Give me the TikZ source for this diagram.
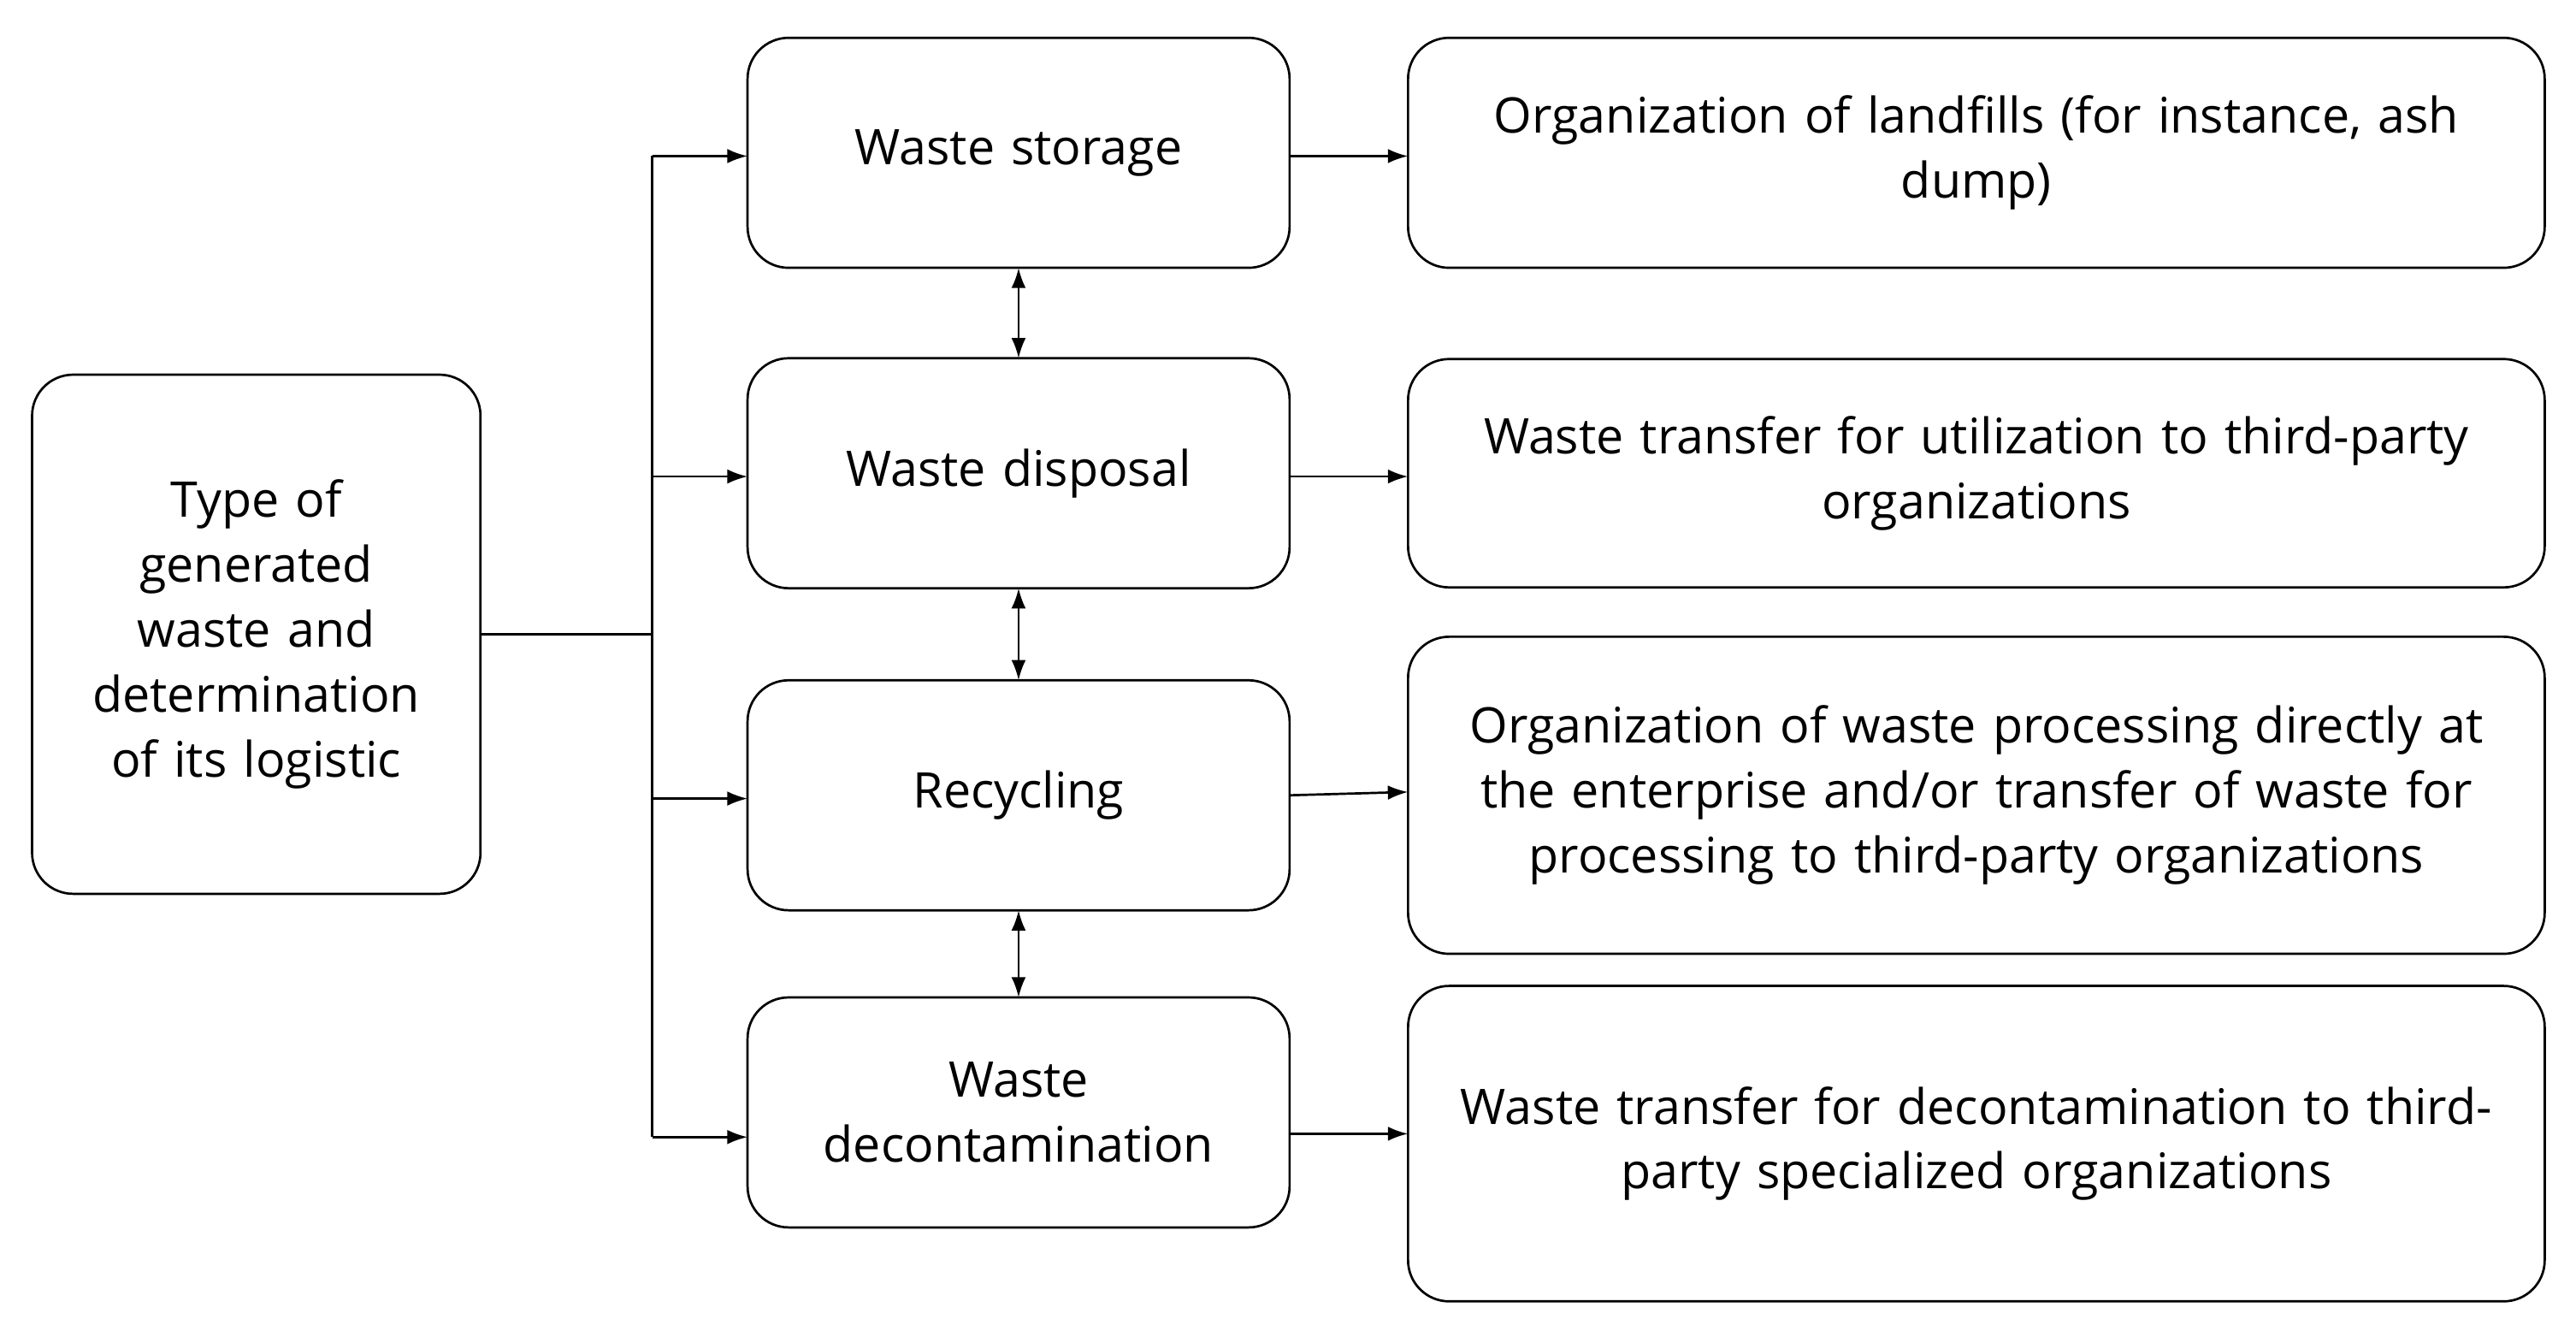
\documentclass[tikz,border=0pt]{standalone}
\usepackage{fontspec}
\setmainfont{Open Sans}
\usetikzlibrary{positioning, arrows.meta}

\begin{document}
\begin{tikzpicture}[
		x = 0.02 cm, y = -0.02 cm,
		font = \fontsize{17}{22.5}\selectfont,
		box/.style = {draw, rounded corners = 0.5 cm, line width = 0.8pt, inner sep = 0, outer sep = 0, align = center},
		kind/.style = {box, minimum width = 6.6 cm, minimum height = 2.8 cm, text width = 6.2 cm},
		task/.style = {box, minimum width = 13.84 cm, text width = 13.2 cm},
		link/.style = {line width = 0.8pt, -{Latex[length=7pt, width=5pt]}},
		both/.style = {line width = 0.8pt, {Latex[length=7pt, width=5pt]}-{Latex[length=7pt, width=5pt]}}
	]
	\useasboundingbox (0, 0) rectangle (1568, 810);
	\node[box, minimum width = 5.46 cm, minimum height = 6.32 cm, text width = 5 cm] (type) at (156, 386)
		{Type of\\generated\\waste and\\determination\\of its logistic};
	\node[kind] (storage) at (620, 93) {Waste storage};
	\node[kind] (disposal) at (620, 288) {Waste disposal};
	\node[kind] (recycling) at (620, 484) {Recycling};
	\node[kind] (decont) at (620, 677) {Waste\\decontamination};
	\node[task, minimum height = 2.8 cm] (landfill) at (1203, 93)
		{Organization of landfills (for instance, ash\\dump)};
	\node[task, minimum height = 2.78 cm] (transfer) at (1203, 288)
		{Waste transfer for utilization to third-party\\organizations};
	\node[task, minimum height = 3.86 cm] (process) at (1203, 484)
		{Organization of waste processing directly at\\the enterprise and/or transfer of waste for\\processing to third-party organizations};
	\node[task, minimum height = 3.84 cm] (decontask) at (1203, 696)
		{Waste transfer for decontamination to third-\\party specialized organizations};
	% trunk
	\coordinate (trunk) at (397, 386);
	\draw[line width = 0.8pt] (type.east) -- (trunk);
	\draw[line width = 0.8pt] (397, 95) -- (397, 692);
	\draw[link] (397, 95) -- (storage.west |- 0, 95);
	\draw[link] (397, 290) -- (disposal.west |- 0, 290);
	\draw[link] (397, 486) -- (recycling.west |- 0, 486);
	\draw[link] (397, 692) -- (decont.west |- 0, 692);
	% outputs
	\draw[link] (storage.east |- 0, 95) -- (landfill.west |- 0, 95);
	\draw[link] (disposal.east |- 0, 290) -- (transfer.west |- 0, 290);
	\draw[link] (recycling.east |- 0, 484) -- (process.west |- 0, 482);
	\draw[link] (decont.east |- 0, 690) -- (decontask.west |- 0, 690);
	% between kinds
	\draw[both] (storage) -- (disposal);
	\draw[both] (disposal) -- (recycling);
	\draw[both] (recycling) -- (decont);
\end{tikzpicture}
\end{document}
